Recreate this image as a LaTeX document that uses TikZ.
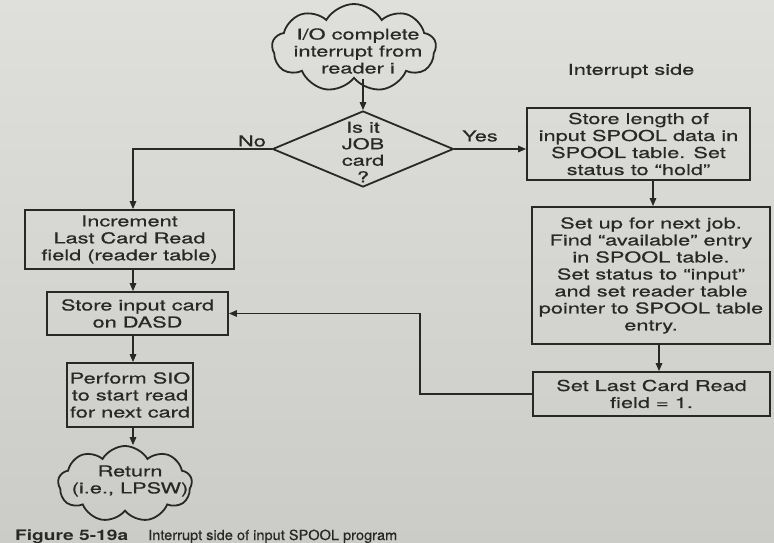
\documentclass[tikz,border=0pt]{standalone}
\usepackage{graphicx}
\usepackage{fontspec}
\setmainfont{TeX Gyre Heros}
\newfontfamily\diagfont[FakeStretch=1.45,FakeBold=0.6]{TeX Gyre Heros}
\newfontfamily\titlefont[FakeBold=0.5]{TeX Gyre Heros}
\usetikzlibrary{shapes.geometric,shapes.symbols,arrows.meta}

\definecolor{ink}{HTML}{282828}
\definecolor{papertop}{HTML}{DFDFDB}
\definecolor{paperbot}{HTML}{CBCBC7}

\begin{document}
\begin{tikzpicture}[x=1pt,y=-1pt,
  txt/.style={text=ink, inner sep=0, align=center,
    font=\diagfont\fontsize{15}{17}\selectfont},
  procbox/.style={txt, draw=ink, line width=1.8pt, rectangle},
  decbox/.style={draw=ink, line width=1.8pt, diamond, inner sep=0,
    minimum width=181pt, minimum height=76pt},
  termcloud/.style={draw=ink, line width=1.8pt, cloud, cloud puffs=9,
    cloud puff arc=120, inner sep=0},
  arr/.style={draw=ink, line width=1.5pt, -{Triangle[length=8pt,width=6.5pt]}},
  capt/.style={text=ink, inner sep=0, anchor=base west}
]
% paper
\useasboundingbox (0,0) rectangle (774,543);
\shade[top color=papertop, bottom color=paperbot] (0,0) rectangle (774,543);

% column guides for the vertical connectors
\coordinate (lcol) at (133,0);
\coordinate (rcol1) at (653,0);
\coordinate (rcol2) at (659,0);
\coordinate (bend) at (420,0);

% start terminal
\node[termcloud, minimum width=164pt, minimum height=88pt] (start) at (354,48) {};
\node[txt] (starttxt) at (358,51) {I/O complete\\interrupt from\\reader i};

% decision
\node[decbox] (dec) at (363,149) {};
\node[txt, font=\diagfont\fontsize{15}{16.5}\selectfont] (dectxt) at (363,152) {Is it\\JOB\\card\\?};
\node[txt] (nolbl) at (252,141) {No};
\node[txt] (yeslbl) at (480,136) {Yes};
\node[txt] (side) at (631,71) {Interrupt side};

% left branch
\node[procbox, minimum width=209pt, minimum height=59pt] (inc) at (129.5,239.5)
  {Increment\\Last Card Read\\field (reader table)};
\node[procbox, minimum width=181pt, minimum height=43pt] (store) at (137.5,313.5)
  {Store input card\\on DASD};
\node[procbox, minimum width=126pt, minimum height=64pt] (sio) at (130,395)
  {Perform SIO\\to start read\\for next card};
\node[termcloud, minimum width=134pt, minimum height=76pt] (ret) at (125,484) {};
\node[txt] (rettxt) at (130,481) {Return\\(i.e., LPSW)};

% right branch
\node[procbox, minimum width=223pt, minimum height=72pt] (len) at (638.5,144)
  {Store length of\\input SPOOL data in\\SPOOL table. Set\\status to “hold”};
\node[procbox, minimum width=238pt, minimum height=137pt] (setup) at (651,275.5)
  {Set up for next job.\\Find “available” entry\\in SPOOL table.\\Set status to “input”\\and set reader table\\pointer to SPOOL table\\entry.};
\node[procbox, minimum width=237pt, minimum height=44pt] (last) at (651.5,394)
  {Set Last Card Read\\field = 1.};

% connectors
\draw[arr] (start.south -| dec.north) -- (dec.north);
\draw[arr] (dec.west) -| (inc.north -| lcol);
\draw[arr] (dec.east) -- (len.west |- dec.east);
\draw[arr] (inc.south -| lcol) -- (store.north -| lcol);
\draw[arr] (store.south -| lcol) -- (sio.north -| lcol);
\draw[arr] (sio.south -| lcol) -- (ret.north -| lcol);
\draw[arr] (len.south -| rcol1) -- (setup.north -| rcol1);
\draw[arr] (setup.south -| rcol2) -- (last.north -| rcol2);
\draw[arr] (last.west) -| (bend |- store.east) -- (store.east);

% caption, set in an extended face
\node[capt, font=\fontsize{14.5}{16}\selectfont\bfseries] (figno) at (15,540)
  {\resizebox{113pt}{\height}{Figure 5-19a}};
\node[capt, font=\titlefont\fontsize{14}{16}\selectfont] (figtitle) at (148,540)
  {\resizebox{249pt}{\height}{Interrupt side of input SPOOL program}};
\end{tikzpicture}
\end{document}
